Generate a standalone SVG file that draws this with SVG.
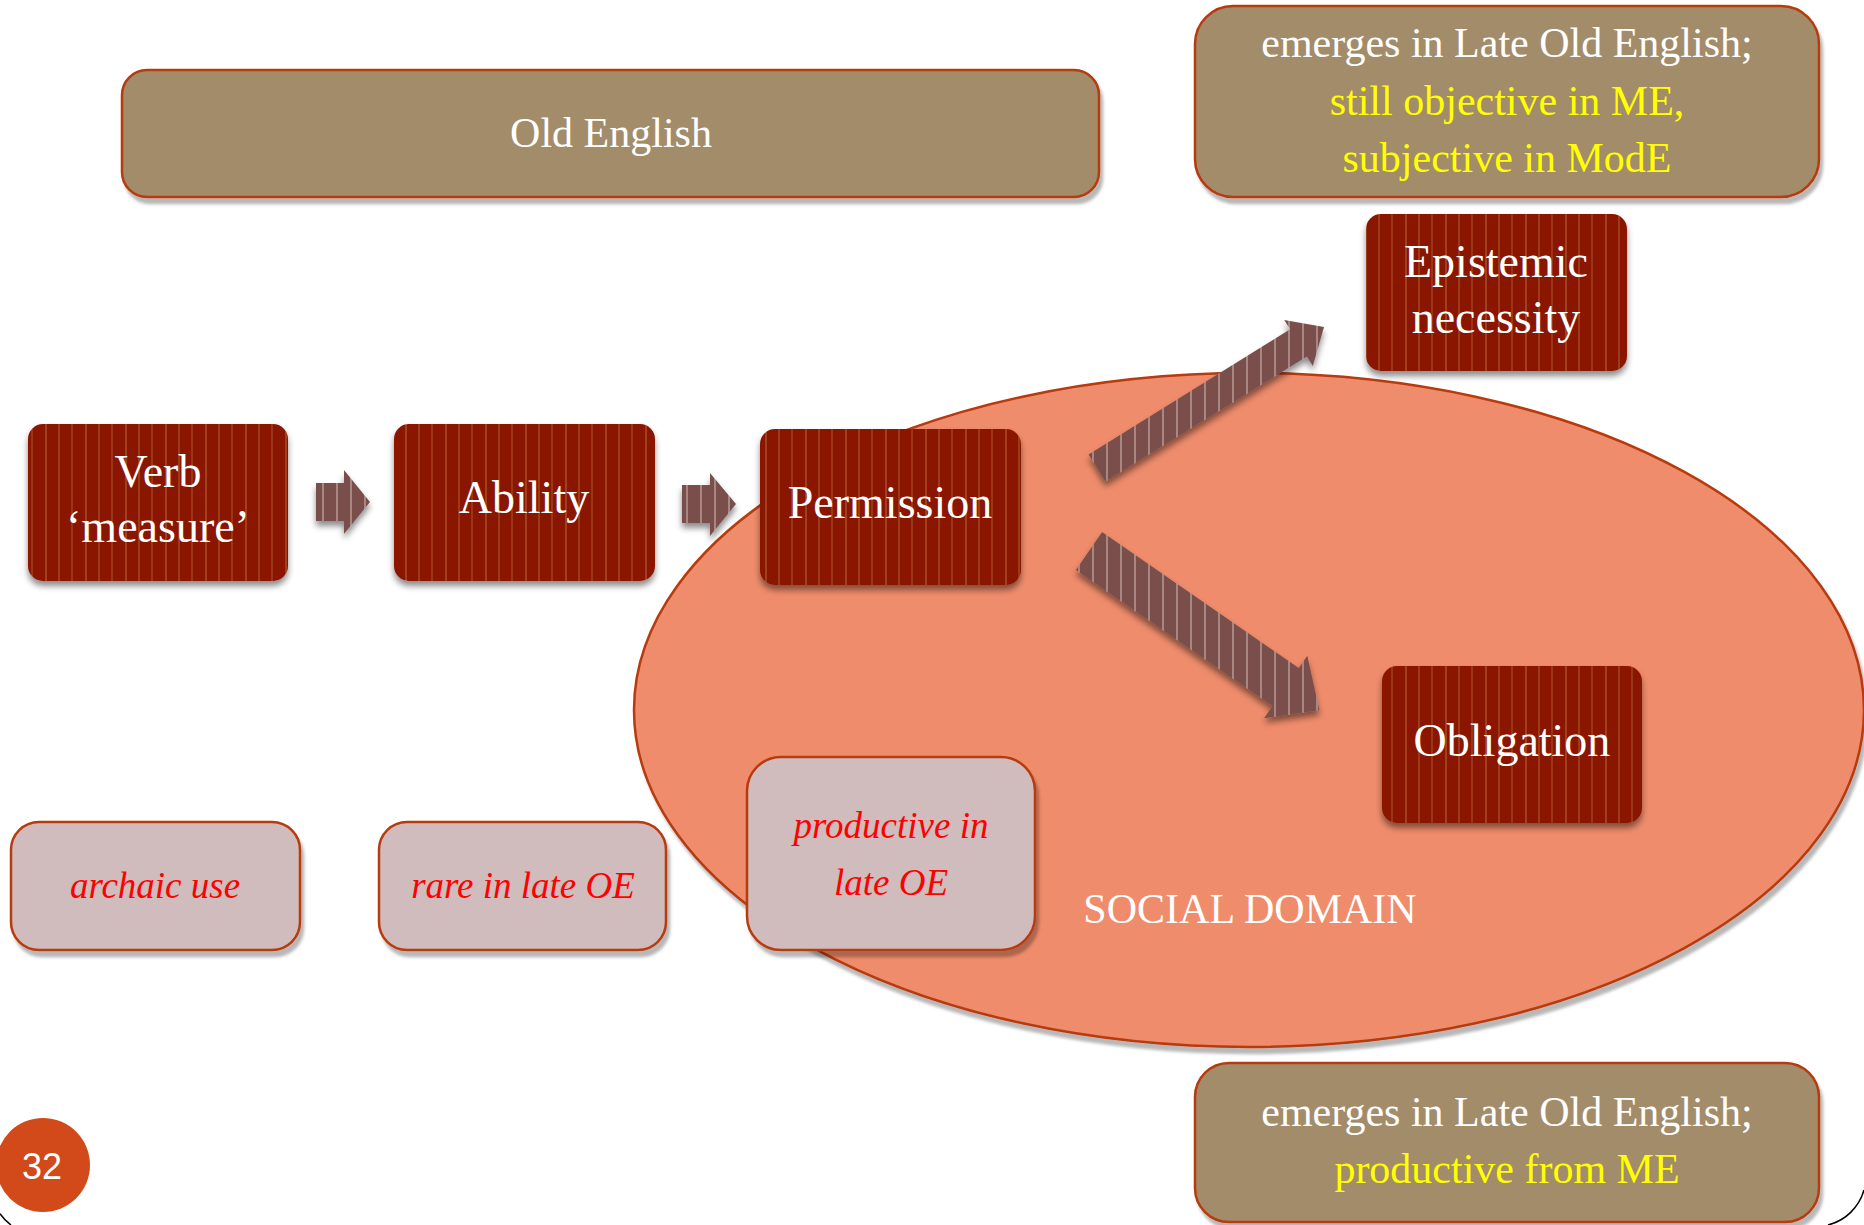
<svg xmlns="http://www.w3.org/2000/svg" width="1864" height="1225" viewBox="0 0 1864 1225">
<defs>
<style>
.tan{fill:#A38C6B;stroke:#B83A10;stroke-width:2.5}
.pink{fill:#D0BCBC;stroke:#B83A10;stroke-width:2.5}
.red{fill:url(#redStripe)}
.arrow{fill:url(#arrowStripe)}
.t{font-family:"Liberation Serif","Times New Roman",serif;text-anchor:middle}
.wt{fill:#FFFFFF}
.yt{fill:#FFFF00}
.rt{fill:#FF0000;font-style:italic;font-size:37px}
.big{font-size:46px}
.med{font-size:42px}
</style>
<pattern id="redStripe" patternUnits="userSpaceOnUse" width="40" height="10">
<rect width="40" height="10" fill="#8B1400"/>
<rect x="5" width="2" height="10" fill="#A0401C"/>
<rect x="18" width="2" height="10" fill="#9C3A18"/>
<rect x="31" width="2" height="10" fill="#9A3616"/>
</pattern>
<pattern id="arrowStripe" patternUnits="userSpaceOnUse" width="14" height="10">
<rect width="14" height="10" fill="#7A504C"/>
<rect x="0" width="2" height="10" fill="#A88682"/>
</pattern>
<filter id="sh" x="-10%" y="-10%" width="130%" height="140%">
<feDropShadow dx="0" dy="5" stdDeviation="3" flood-color="#000" flood-opacity="0.45"/>
</filter>
<filter id="sh2" x="-10%" y="-10%" width="130%" height="140%">
<feDropShadow dx="3" dy="6" stdDeviation="1.5" flood-color="#000" flood-opacity="0.28"/>
</filter>
</defs>
<rect width="1864" height="1225" fill="#FFFFFF"/>

<g id="frame" fill="none" stroke="#000" stroke-width="1.5">
<path d="M0,1213.6 A50,50 0 0 0 11,1225"/>
<path d="M1828,1225 A50,50 0 0 0 1864,1190"/>
</g>

<g id="social-domain">
<ellipse cx="1249" cy="710" rx="615" ry="337" fill="#EF8C6C" stroke="#B83A10" stroke-width="2.5" filter="url(#sh2)"/>
<text class="t wt" x="1250" y="923" font-size="42">SOCIAL DOMAIN</text>
</g>

<g id="old-english">
<rect class="tan" x="122" y="70" width="977" height="127" rx="25" filter="url(#sh2)"/>
<text class="t wt med" x="611" y="147">Old English</text>
</g>

<g id="note-epistemic">
<rect class="tan" x="1195" y="6" width="624" height="191" rx="38" filter="url(#sh2)"/>
<text class="t wt med" x="1507" y="57">emerges in Late Old English;</text>
<text class="t yt med" x="1507" y="115">still objective in ME,</text>
<text class="t yt med" x="1507" y="172">subjective in ModE</text>
</g>

<g id="note-obligation">
<rect class="tan" x="1195" y="1063" width="624" height="159" rx="34" filter="url(#sh2)"/>
<text class="t wt med" x="1507" y="1126">emerges in Late Old English;</text>
<text class="t yt med" x="1507" y="1183">productive from ME</text>
</g>

<g id="verb-measure">
<rect class="red" x="28" y="424" width="260" height="157" rx="15" filter="url(#sh)"/>
<text class="t wt big" x="158" y="487">Verb</text>
<text class="t wt big" x="158" y="542">‘measure’</text>
</g>

<g id="ability">
<rect class="red" x="394" y="424" width="261" height="157" rx="15" filter="url(#sh)"/>
<text class="t wt big" x="524" y="513">Ability</text>
</g>

<g id="permission">
<rect class="red" x="760" y="429" width="261" height="156" rx="15" filter="url(#sh)"/>
<text class="t wt big" x="890" y="518">Permission</text>
</g>

<g id="epistemic-necessity">
<rect class="red" x="1366" y="214" width="261" height="157" rx="15" filter="url(#sh)"/>
<text class="t wt big" x="1496" y="277">Epistemic</text>
<text class="t wt big" x="1496" y="333">necessity</text>
</g>

<g id="obligation">
<rect class="red" x="1382" y="666" width="260" height="157" rx="15" filter="url(#sh)"/>
<text class="t wt big" x="1512" y="756">Obligation</text>
</g>

<g id="archaic-use">
<rect class="pink" x="11" y="822" width="289" height="128" rx="28" filter="url(#sh2)"/>
<text class="t rt" x="155" y="898">archaic use</text>
</g>

<g id="rare-late-oe">
<rect class="pink" x="379" y="822" width="287" height="128" rx="28" filter="url(#sh2)"/>
<text class="t rt" x="523" y="898">rare in late OE</text>
</g>

<g id="productive-late-oe">
<rect class="pink" x="747" y="757" width="288" height="193" rx="34" filter="url(#sh2)"/>
<text class="t rt" x="891" y="838">productive in</text>
<text class="t rt" x="891" y="895">late OE</text>
</g>

<g id="connectors" filter="url(#sh)">
<polygon class="arrow" points="316,483 344,483 344,470 370,502 344,534 344,521 316,521"/>
<polygon class="arrow" points="682,485 710,485 710,473 736,504 710,536 710,523 682,523"/>
<polygon class="arrow" points="1088.6,454.4 1290.1,329.3 1284.2,319.9 1324,327 1312.8,365.9 1306.9,356.5 1105.4,481.6"/>
<polygon class="arrow" points="1102.1,532.1 1298.8,668.1 1307.3,655.7 1319.4,710.3 1264.1,718.3 1272.6,705.9 1075.9,569.9"/>
</g>

<g id="page-number">
<circle cx="43" cy="1165" r="47" fill="#D24A19"/>
<text x="42" y="1179" font-family="Liberation Sans, Arial, sans-serif" font-size="36" fill="#FFFFFF" text-anchor="middle">32</text>
</g>
</svg>
